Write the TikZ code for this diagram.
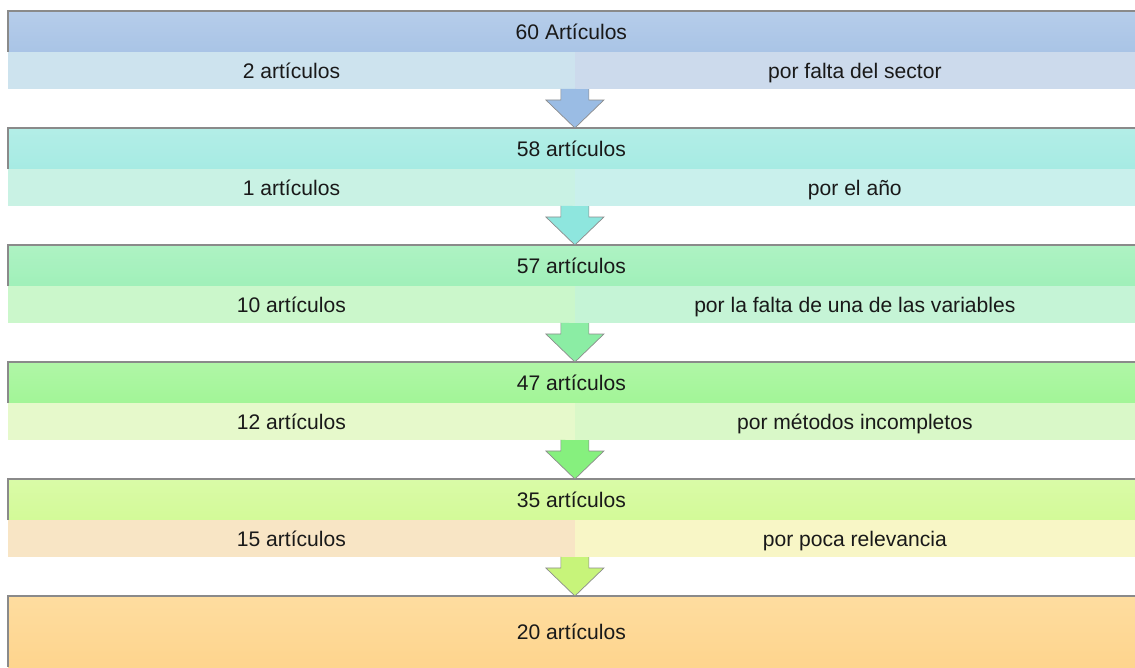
\documentclass[tikz,border=0pt]{standalone}
\usepackage{fontspec}
\setmainfont{Liberation Sans}
\usetikzlibrary{calc}

\definecolor{hd1}{HTML}{A9C4E6}\definecolor{sl1}{HTML}{CDE3EE}\definecolor{sr1}{HTML}{CCDAEC}\definecolor{ar1}{HTML}{9ABCE4}
\definecolor{hd2}{HTML}{A6EBE3}\definecolor{sl2}{HTML}{C9F2E4}\definecolor{sr2}{HTML}{C9F0EC}\definecolor{ar2}{HTML}{8EE6DE}
\definecolor{hd3}{HTML}{A0F0B9}\definecolor{sl3}{HTML}{CBF7CB}\definecolor{sr3}{HTML}{C5F4D6}\definecolor{ar3}{HTML}{8BEDA4}
\definecolor{hd4}{HTML}{A2F597}\definecolor{sl4}{HTML}{E6F9CB}\definecolor{sr4}{HTML}{D9F8C8}\definecolor{ar4}{HTML}{86F07E}
\definecolor{hd5}{HTML}{D3FA98}\definecolor{sl5}{HTML}{F8E5C5}\definecolor{sr5}{HTML}{F8F6C6}\definecolor{ar5}{HTML}{C7F47A}
\definecolor{hd6}{HTML}{FED995}
\definecolor{rimgray}{HTML}{8A8A8A}

\tikzset{
  txt/.style={font=\fontsize{12}{14}\selectfont, text=black!90, inner sep=0pt, outer sep=0pt, anchor=north west, text height=10.3pt, text depth=0.7pt},
  header/.style={txt, minimum width=22.54cm, minimum height=0.82cm},
  subleft/.style={txt, minimum width=11.34cm, minimum height=0.74cm},
  subright/.style={txt, minimum width=11.2cm, minimum height=0.74cm},
  rim/.style={draw=rimgray, line width=0.8pt},
  arrowline/.style={draw=black!45, line width=0.4pt, line join=miter}
}

\begin{document}
\begin{tikzpicture}[x=0.02cm,y=-0.02cm]
	\useasboundingbox (0,0) rectangle (1135,667);

	\node[header, top color=hd1!85!white, bottom color=hd1] (h1) at (8,11) {60 Artículos};
	\node[subleft, fill=sl1] (l1) at (h1.south west) {2 artículos};
	\node[subright, fill=sr1] (r1) at (l1.north east) {por falta del sector};

	\node[header, top color=hd2!85!white, bottom color=hd2] (h2) at (8,128) {58 artículos};
	\node[subleft, fill=sl2] (l2) at (h2.south west) {1 artículos};
	\node[subright, fill=sr2] (r2) at (l2.north east) {por el año};

	\node[header, top color=hd3!85!white, bottom color=hd3] (h3) at (8,245) {57 artículos};
	\node[subleft, fill=sl3] (l3) at (h3.south west) {10 artículos};
	\node[subright, fill=sr3] (r3) at (l3.north east) {por la falta de una de las variables};

	\node[header, top color=hd4!85!white, bottom color=hd4] (h4) at (8,362) {47 artículos};
	\node[subleft, fill=sl4] (l4) at (h4.south west) {12 artículos};
	\node[subright, fill=sr4] (r4) at (l4.north east) {por métodos incompletos};

	\node[header, top color=hd5!85!white, bottom color=hd5] (h5) at (8,479) {35 artículos};
	\node[subleft, fill=sl5] (l5) at (h5.south west) {15 artículos};
	\node[subright, fill=sr5] (r5) at (l5.north east) {por poca relevancia};

	\node[header, minimum height=1.42cm, top color=hd6!90!white, bottom color=hd6!95!orange] (h6) at (8,596) {20 artículos};

	% bordes superior e izquierdo
	\foreach \i in {1,...,6}
		\draw[rim] (h\i.south west) -- (h\i.north west) -- (h\i.north east);

	% flechas entre bloques
	\foreach \a/\b in {1/2,2/3,3/4,4/5,5/6} {
		\coordinate (t\a) at (l\a.south east);
		\coordinate (p\a) at (t\a |- h\b.north);
		\fill[ar\a] ($(t\a)+(-14,0)$) -- ++(0,11) -- ++(-15,0) -- (p\a) -- ++(29,-28) -- ++(-15,0) -- ++(0,-11) -- cycle;
		\draw[arrowline] ($(t\a)+(-14,0)$) -- ++(0,11) -- ++(-15,0) -- (p\a) -- ++(29,-28) -- ++(-15,0) -- ++(0,-11);
	}
\end{tikzpicture}
\end{document}
